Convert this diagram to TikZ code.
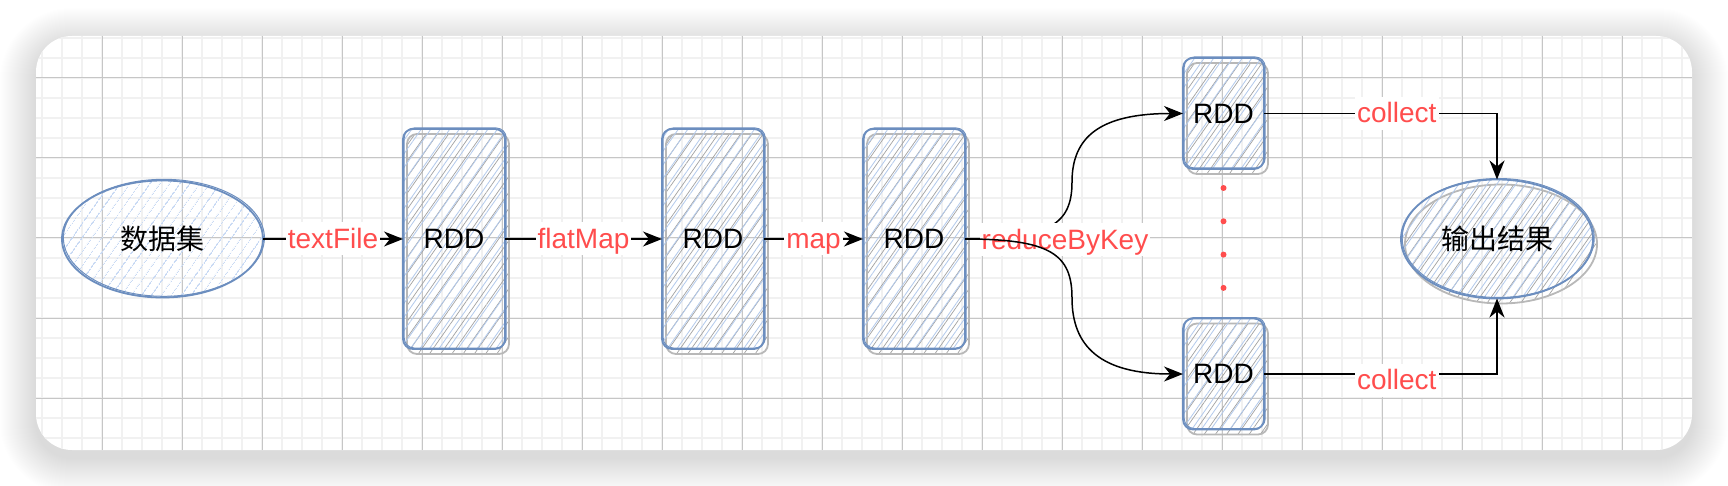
\documentclass[tikz,border=0pt]{standalone}
\usepackage{fontspec}
\setmainfont{Liberation Sans}
\newfontfamily\cjk{Noto Sans CJK SC}
\usetikzlibrary{patterns.meta,shadows,arrows.meta,shapes.geometric}
\definecolor{strokeblue}{HTML}{6C8EBF}
\definecolor{hatchblue}{HTML}{B3CAEC}
\definecolor{hatchbluelight}{HTML}{C9DAF4}
\definecolor{hatchgray}{HTML}{A2A2A2}
\definecolor{shadowline}{HTML}{B8B8B8}
\definecolor{labelred}{HTML}{FF4D4D}
\definecolor{gridmajor}{HTML}{C6C6C6}
\definecolor{gridminor}{HTML}{F1F1F1}
\tikzset{
  sketchshadow/.style={general shadow={shadow xshift=2pt,shadow yshift=-2.5pt,draw=shadowline,line width=0.9pt,
      pattern={Lines[angle=55,distance=4.6pt,line width=0.35pt]},pattern color=hatchgray}},
  sketchbody/.style={draw=strokeblue,line width=0.9pt,
      pattern={Lines[angle=55,distance=3.9pt,line width=0.4pt]},pattern color=hatchblue,
      postaction={draw=strokeblue,line width=0.5pt,transform canvas={shift={(0.6pt,0.5pt)}}}},
  rdd/.style={rectangle,rounded corners=5pt,sketchshadow,sketchbody,inner sep=0pt,outer sep=0pt,
      font=\fontsize{14}{16}\selectfont},
  bigrdd/.style={rdd,minimum width=51pt,minimum height=110pt},
  smallrdd/.style={rdd,minimum width=40.5pt,minimum height=55.5pt},
  dataset/.style={ellipse,draw=strokeblue,line width=0.9pt,inner sep=0pt,outer sep=0pt,
      minimum width=100.5pt,minimum height=58.5pt,
      pattern={Lines[angle=55,distance=4pt,line width=0.4pt]},pattern color=hatchbluelight,
      postaction={draw=strokeblue,line width=0.5pt,transform canvas={shift={(0.7pt,0.6pt)}}},
      font=\cjk\fontsize{14}{16}\selectfont},
  result/.style={ellipse,sketchshadow,sketchbody,inner sep=0pt,outer sep=0pt,
      minimum width=96pt,minimum height=59.5pt,font=\cjk\fontsize{14}{16}\selectfont},
  conn/.style={draw=black,line width=0.75pt,-{Stealth[length=9.5pt,width=7.5pt,inset=3pt]}},
  lbl/.style={fill=white,text=labelred,inner sep=1pt,text height=12pt,text depth=2.5pt,
      font=\fontsize{14}{16}\selectfont},
  dotsline/.style={draw=labelred,line width=3pt,line cap=round,dash pattern=on 0pt off 16.65pt,dash phase=7.15pt},
  gridmin/.style={draw=gridminor,line width=1pt},
  gridmaj/.style={draw=gridmajor,line width=0.5pt}
}
\begin{document}
\begin{tikzpicture}[x=0.5pt,y=-0.5pt]
\useasboundingbox (0,0) rectangle (1728,486);
\fill[white] (0,0) rectangle (1728,486);
% card shadow
\foreach \i in {1,...,36}{
  \fill[black,opacity=0.0036,rounded corners=18pt+0.5*\i pt] (36-\i,44-\i) rectangle (1692+\i,458+\i);
}
% card
\fill[white,rounded corners=18pt] (36,36) rectangle (1692,450);
\begin{scope}
  \clip[rounded corners=18pt] (36,36) rectangle (1692,450);
  \foreach \x in {42,62,...,1682} \draw[gridmin] (\x,36) -- (\x,450);
  \foreach \y in {38,58,...,438} \draw[gridmin] (36,\y) -- (1692,\y);
  \foreach \x in {102,182,...,1662} \draw[gridmaj] (\x,36) -- (\x,450);
  \foreach \y in {78,158,...,398} \draw[gridmaj] (36,\y) -- (1692,\y);
\end{scope}

% nodes
\node[dataset] (ds) at (162.5,239) {数据集};
\node[bigrdd] (r1) at (454,239) {RDD};
\node[bigrdd] (r2) at (713,239) {RDD};
\node[bigrdd] (r3) at (914,239) {RDD};
\node[smallrdd] (rt) at (1223.5,113.5) {RDD};
\node[smallrdd] (rb) at (1223.5,374) {RDD};
\node[result] (out) at (1497,239) {输出结果};

\coordinate (bendUp) at (1072,182);
\coordinate (bendDn) at (1072,298);

% connectors
\draw[conn] (ds) -- node[lbl]{textFile} (r1);
\draw[conn] (r1) -- node[lbl]{flatMap} (r2);
\draw[conn] (r2) -- node[lbl]{map} (r3);
\draw[conn] (r3.east) .. controls +(85,0) and +(0,42) .. (bendUp) .. controls +(0,-45) and +(-83,0) .. (rt.west);
\node[lbl] (rbk) at (1065,240) {reduceByKey};
\draw[conn] (r3.east) .. controls +(85,0) and +(0,-44) .. (bendDn) .. controls +(0,48) and +(-83,0) .. (rb.west);
\draw[dotsline] (rt.south) -- (rb.north);
\draw[conn] (rt.east) -| node[lbl,pos=0.285]{collect} (out.north);
\draw[conn] (rb.east) -| node[lbl,pos=0.285,yshift=-3pt]{collect} (out.south);
\end{tikzpicture}
\end{document}
